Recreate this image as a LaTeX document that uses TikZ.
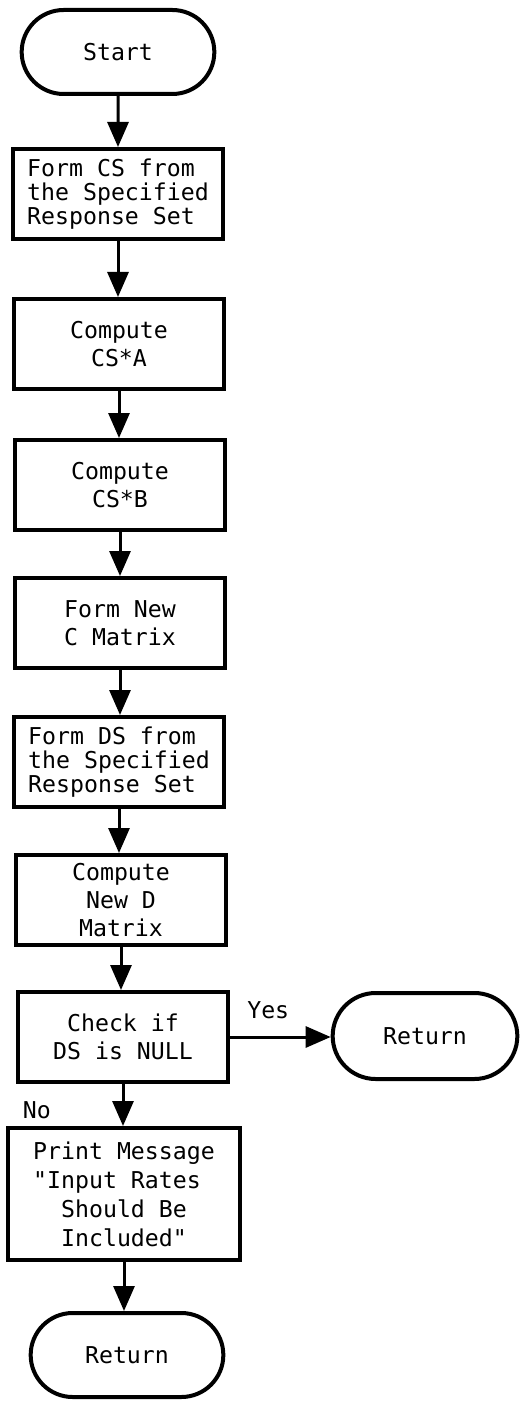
\documentclass[tikz,border=0pt]{standalone}
\usepackage{fontspec}
\setmonofont{DejaVu Sans Mono}
\usetikzlibrary{arrows.meta,positioning,shapes.misc}
\tikzset{
    proc/.style={draw, line width=2pt, minimum width=105pt, minimum height=45pt,
        inner sep=2pt, align=center, font=\ttfamily\fontsize{11.6}{14}\selectfont},
    tight/.style={align=left, font=\ttfamily\fontsize{11.6}{12}\selectfont},
    term/.style={draw, line width=2pt, rounded rectangle, minimum width=103pt,
        minimum height=42pt, font=\ttfamily\fontsize{11.6}{14}\selectfont},
    flow/.style={line width=1.5pt, -{Triangle[length=12.5pt,width=10.5pt]}},
    lbl/.style={font=\ttfamily\fontsize{11.6}{14}\selectfont}
}
\begin{document}
\begin{tikzpicture}[x=0.5pt,y=-0.5pt]
    \useasboundingbox (0,0) rectangle (527,1401);
    \node[term] (start) at (118,52) {Start};
    \node[proc,tight] (cs) at (118,194) {Form CS from\\the Specified\\Response Set};
    \node[proc] (csa) at (119,344) {Compute\\CS*A};
    \node[proc] (csb) at (120,485) {Compute\\CS*B};
    \node[proc] (newc) at (120,623) {Form New\\C Matrix};
    \node[proc,tight] (ds) at (119,762) {Form DS from\\the Specified\\Response Set};
    \node[proc] (newd) at (121,900) {Compute\\New D\\Matrix};
    \node[proc] (check) at (123,1037) {Check if\\DS is NULL};
    \node[proc, minimum width=116pt, minimum height=66pt, align=left,
        font=\ttfamily\fontsize{11.6}{14.5}\selectfont] (msg) at (124,1194)
        {Print Message\\"Input Rates\\\phantom{xx}Should Be\\\phantom{xx}Included"};
    \node[term] (ret) at (127,1355) {Return};
    \node[term, minimum width=99pt, minimum height=43pt] (retyes) at (425,1036) {Return};
    % main line down the left column
    \draw[flow] (start) -- (start.south |- cs.north);
    \draw[flow] (cs) -- (cs.south |- csa.north);
    \draw[flow] (csa) -- (csa.south |- csb.north);
    \draw[flow] (csb) -- (csb.south |- newc.north);
    \draw[flow] (newc) -- (newc.south |- ds.north);
    \draw[flow] (ds) -- (ds.south |- newd.north);
    \draw[flow] (newd) -- (newd.south |- check.north);
    \draw[flow] (check) -- node[lbl, pos=0.62, left=32pt] {No} (check.south |- msg.north);
    \draw[flow] (check.east) -- node[lbl, pos=0.38, above=5pt] {Yes} (retyes.west |- check.east);
\draw[flow] (msg) -- (msg.south |- ret.north);
\end{tikzpicture}
\end{document}
